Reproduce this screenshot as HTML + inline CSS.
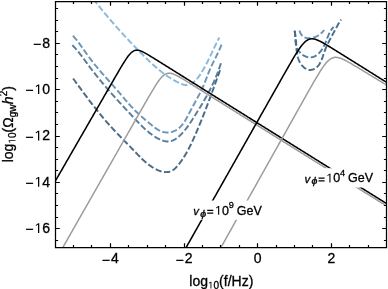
<!DOCTYPE html>
<html><head><meta charset="utf-8"><style>
html,body{margin:0;padding:0;background:#fff;}
svg{display:block;}
svg,text,tspan{font-family:"Liberation Sans",sans-serif;}
text{stroke:#000;stroke-width:0.3px;paint-order:stroke;}
.h1{fill:none;stroke:none;}
</style></head><body>
<svg style="will-change:transform" width="388" height="289" viewBox="0 0 388 289" xmlns="http://www.w3.org/2000/svg">
<defs><clipPath id="pc"><rect x="55.5" y="1.5" width="331.0" height="246.0"/></clipPath></defs>
<rect width="388" height="289" fill="#fff"/>
<g clip-path="url(#pc)">
<path d="M93.25,-1.02 L93.55,-0.65 L93.84,-0.27 L94.14,0.11 L94.44,0.49 L94.73,0.86 L95.03,1.24 L95.32,1.62 L95.62,1.99 L95.92,2.37 L96.21,2.74 L96.51,3.12 L96.81,3.49 L97.11,3.86 L97.40,4.24 L97.70,4.61 L98.00,4.98 L98.30,5.35 L98.60,5.72 L98.89,6.09 L99.19,6.47 L99.49,6.84 L99.79,7.21 L100.09,7.57 L100.39,7.94 L100.69,8.31 L100.99,8.68 L101.29,9.05 L101.59,9.42 L101.89,9.78 L102.19,10.15 L102.49,10.52 L102.79,10.88 L103.09,11.25 L103.39,11.61 L103.70,11.98 L104.00,12.34 L104.30,12.71 L104.60,13.07 L104.90,13.43 L105.21,13.80 L105.51,14.16 L105.81,14.52 L106.12,14.89 L106.42,15.25 L106.72,15.61 L107.03,15.97 L107.33,16.33 L107.64,16.69 L107.94,17.05 L108.24,17.41 L108.55,17.77 L108.86,18.13 L109.16,18.49 L109.47,18.85 L109.77,19.20 L110.08,19.56 L110.38,19.92 L110.69,20.28 L111.00,20.63 L111.31,20.99 L111.61,21.35 L111.92,21.70 L112.23,22.06 L112.54,22.41 L112.84,22.77 L113.15,23.12 L113.46,23.48 L113.77,23.83 L114.08,24.19 L114.39,24.54 L114.70,24.89 L115.01,25.25 L115.32,25.60 L115.63,25.95 L115.94,26.30 L116.25,26.66 L116.56,27.01 L116.88,27.36 L117.19,27.71 L117.50,28.06 L117.81,28.41 L118.12,28.76 L118.44,29.11 L118.75,29.46 L119.06,29.81 L119.38,30.16 L119.69,30.51 L120.01,30.86 L120.32,31.21 L120.63,31.56 L120.95,31.91 L121.26,32.25 L121.58,32.60 L121.90,32.95 L122.21,33.30 L122.53,33.64 L122.84,33.99 L123.16,34.34 L123.48,34.68 L123.80,35.03 L124.11,35.38 L124.43,35.72 L124.75,36.07 L125.07,36.41 L125.39,36.76 L125.71,37.10 L126.03,37.45 L126.35,37.79 L126.67,38.14 L126.99,38.48 L127.31,38.82 L127.63,39.17 L127.95,39.51 L128.27,39.86 L128.59,40.20 L128.92,40.54 L129.24,40.88 L129.56,41.23 L129.88,41.57 L130.21,41.91 L130.53,42.25 L130.85,42.60 L131.18,42.94 L131.50,43.28 L131.83,43.62 L132.15,43.96 L132.48,44.30 L132.80,44.64 L133.13,44.99 L133.46,45.33 L133.78,45.67 L134.11,46.01 L134.44,46.35 L134.77,46.69 L135.09,47.03 L135.42,47.37 L135.75,47.71 L136.08,48.05 L136.41,48.39 L136.74,48.73 L137.07,49.07 L137.40,49.40 L137.73,49.74 L138.06,50.08 L138.39,50.42 L138.72,50.76 L139.06,51.10 L139.39,51.44 L139.72,51.78 L140.05,52.11 L140.39,52.45 L140.72,52.79 L141.06,53.13 L141.39,53.47 L141.72,53.80 L142.06,54.14 L142.40,54.48 L142.73,54.81 L143.07,55.15 L143.40,55.49 L143.74,55.82 L144.08,56.16 L144.42,56.49 L144.76,56.83 L145.10,57.16 L145.44,57.50 L145.78,57.83 L146.12,58.16 L146.46,58.50 L146.80,58.83 L147.14,59.16 L147.48,59.49 L147.83,59.82 L148.17,60.15 L148.52,60.48 L148.86,60.81 L149.21,61.14 L149.55,61.47 L149.90,61.79 L150.25,62.12 L150.60,62.44 L150.94,62.77 L151.29,63.09 L151.64,63.41 L152.00,63.73 L152.35,64.06 L152.70,64.38 L153.05,64.69 L153.41,65.01 L153.76,65.33 L154.12,65.65 L154.47,65.96 L154.83,66.28 L155.19,66.59 L155.54,66.90 L155.90,67.21 L156.26,67.52 L156.62,67.83 L156.99,68.14 L157.35,68.45 L157.71,68.75 L158.08,69.05 L158.44,69.36 L158.81,69.66 L159.17,69.96 L159.54,70.26 L159.91,70.56 L160.28,70.85 L160.65,71.15 L161.02,71.44 L161.39,71.73 L161.77,72.02 L162.14,72.31 L162.52,72.60 L162.89,72.89 L163.27,73.17 L163.65,73.45 L164.03,73.74 L164.41,74.02 L164.79,74.29 L165.17,74.57 L165.55,74.85 L165.94,75.12 L166.32,75.39 L166.71,75.66 L167.10,75.93 L167.49,76.20 L167.88,76.46 L168.27,76.72 L168.66,76.98 L169.05,77.24 L169.45,77.50 L169.85,77.76 L170.24,78.01 L170.64,78.26 L171.04,78.51 L171.44,78.76 L171.84,79.00 L172.25,79.25 L172.65,79.49 L173.06,79.73 L173.46,79.96 L173.87,80.20 L174.28,80.43 L174.69,80.66 L175.10,80.89 L175.52,81.12 L175.93,81.34 L176.35,81.56 L176.76,81.78 L177.18,82.00 L177.60,82.21 L178.03,82.43 L178.45,82.64 L178.87,82.84 L179.30,83.05 L179.72,83.24 L180.15,83.44 L180.58,83.62 L181.01,83.80 L181.44,83.97 L181.87,84.13 L182.30,84.28 L182.73,84.42 L183.16,84.54 L183.60,84.65 L184.03,84.75 L184.46,84.84 L184.89,84.91 L185.32,84.96 L185.75,84.99 L186.19,85.01 L186.62,85.00 L187.05,84.98 L187.48,84.94 L187.90,84.87 L188.33,84.79 L188.75,84.69 L189.17,84.57 L189.59,84.44 L190.01,84.29 L190.42,84.12 L190.83,83.93 L191.24,83.74 L191.64,83.52 L192.03,83.30 L192.42,83.05 L192.81,82.80 L193.19,82.53 L193.56,82.25 L193.93,81.96 L194.29,81.66 L194.64,81.35 L194.99,81.03 L195.34,80.70 L195.68,80.36 L196.01,80.01 L196.34,79.65 L196.66,79.28 L196.98,78.91 L197.30,78.53 L197.61,78.15 L197.92,77.76 L198.22,77.36 L198.52,76.96 L198.81,76.56 L199.10,76.15 L199.39,75.74 L199.67,75.33 L199.95,74.91 L200.22,74.49 L200.49,74.07 L200.76,73.65 L201.03,73.24 L201.29,72.82 L201.56,72.40 L201.81,71.98 L202.07,71.56 L202.32,71.14 L202.57,70.73 L202.82,70.31 L203.07,69.89 L203.31,69.48 L203.55,69.06 L203.79,68.65 L204.03,68.23 L204.26,67.82 L204.49,67.40 L204.72,66.99 L204.95,66.57 L205.18,66.16 L205.40,65.75 L205.63,65.33 L205.85,64.92 L206.07,64.50 L206.28,64.09 L206.50,63.68 L206.72,63.26 L206.93,62.85 L207.14,62.44 L207.35,62.03 L207.56,61.61 L207.77,61.20 L207.98,60.79 L208.19,60.37 L208.39,59.96 L208.60,59.55 L208.80,59.13 L209.00,58.72 L209.20,58.31 L209.40,57.89 L209.61,57.48 L209.81,57.06 L210.00,56.65 L210.20,56.23 L210.40,55.82 L210.60,55.40 L210.80,54.99 L211.00,54.57 L211.19,54.16 L211.39,53.74 L211.59,53.32 L211.79,52.91 L211.98,52.49 L212.18,52.07 L212.38,51.65 L212.58,51.23 L212.77,50.81 L212.97,50.39 L213.17,49.97 L213.37,49.55 L213.57,49.13 L213.77,48.71 L213.97,48.29 L214.17,47.86 L214.38,47.44 L214.58,47.01 L214.78,46.59 L214.99,46.16 L215.19,45.74 L215.40,45.31 L215.61,44.88 L215.82,44.45 L216.03,44.03 L216.24,43.60 L216.45,43.16 L216.67,42.73 L216.88,42.30 L217.10,41.87 L217.32,41.43 L217.54,41.00 L217.76,40.56 L217.99,40.12 L218.21,39.69 L218.44,39.25 L218.67,38.81 L218.90,38.37 L219.13,37.93 L219.37,37.48" stroke="#8bb9db" fill="none" stroke-width="1.95" stroke-dasharray="6.3 2.5"/>
<path d="M72.98,35.71 L73.38,36.17 L73.78,36.64 L74.18,37.11 L74.58,37.58 L74.97,38.06 L75.36,38.53 L75.75,39.01 L76.13,39.49 L76.52,39.98 L76.90,40.46 L77.28,40.95 L77.66,41.44 L78.03,41.93 L78.41,42.42 L78.78,42.91 L79.15,43.41 L79.52,43.90 L79.89,44.40 L80.25,44.90 L80.62,45.40 L80.99,45.90 L81.35,46.40 L81.71,46.90 L82.07,47.40 L82.44,47.90 L82.80,48.41 L83.16,48.91 L83.52,49.41 L83.88,49.92 L84.24,50.42 L84.59,50.93 L84.95,51.43 L85.31,51.94 L85.67,52.44 L86.03,52.95 L86.39,53.45 L86.75,53.96 L87.11,54.46 L87.48,54.96 L87.84,55.46 L88.20,55.97 L88.56,56.47 L88.93,56.97 L89.30,57.46 L89.66,57.96 L90.03,58.46 L90.40,58.95 L90.77,59.45 L91.14,59.94 L91.52,60.43 L91.89,60.92 L92.27,61.41 L92.65,61.90 L93.03,62.38 L93.41,62.87 L93.80,63.35 L94.18,63.83 L94.57,64.31 L94.96,64.79 L95.34,65.27 L95.73,65.75 L96.13,66.23 L96.52,66.70 L96.91,67.17 L97.31,67.65 L97.70,68.12 L98.10,68.59 L98.50,69.06 L98.90,69.53 L99.30,70.00 L99.70,70.47 L100.10,70.94 L100.50,71.40 L100.90,71.87 L101.31,72.34 L101.71,72.80 L102.12,73.26 L102.52,73.73 L102.93,74.19 L103.34,74.65 L103.75,75.12 L104.16,75.58 L104.56,76.04 L104.97,76.50 L105.38,76.96 L105.79,77.42 L106.21,77.89 L106.62,78.35 L107.03,78.81 L107.44,79.27 L107.85,79.73 L108.26,80.19 L108.68,80.65 L109.09,81.11 L109.50,81.57 L109.91,82.03 L110.33,82.49 L110.74,82.95 L111.15,83.41 L111.56,83.87 L111.98,84.33 L112.39,84.79 L112.80,85.26 L113.21,85.72 L113.62,86.18 L114.04,86.64 L114.45,87.11 L114.86,87.57 L115.27,88.04 L115.68,88.50 L116.09,88.97 L116.50,89.43 L116.90,89.90 L117.31,90.37 L117.72,90.84 L118.13,91.31 L118.53,91.78 L118.94,92.25 L119.34,92.72 L119.75,93.19 L120.15,93.66 L120.55,94.14 L120.96,94.61 L121.36,95.09 L121.76,95.56 L122.16,96.04 L122.56,96.51 L122.96,96.99 L123.37,97.46 L123.77,97.93 L124.17,98.41 L124.57,98.88 L124.97,99.36 L125.38,99.83 L125.78,100.30 L126.18,100.77 L126.59,101.24 L126.99,101.71 L127.40,102.18 L127.80,102.65 L128.21,103.11 L128.62,103.58 L129.03,104.04 L129.44,104.50 L129.85,104.96 L130.26,105.42 L130.67,105.88 L131.09,106.33 L131.50,106.79 L131.92,107.24 L132.34,107.69 L132.76,108.13 L133.18,108.58 L133.60,109.02 L134.03,109.46 L134.46,109.89 L134.89,110.33 L135.32,110.76 L135.75,111.19 L136.18,111.61 L136.62,112.03 L137.06,112.46 L137.50,112.88 L137.94,113.29 L138.39,113.71 L138.83,114.12 L139.28,114.53 L139.73,114.94 L140.18,115.35 L140.63,115.76 L141.09,116.17 L141.54,116.57 L142.00,116.98 L142.46,117.38 L142.92,117.78 L143.39,118.18 L143.85,118.58 L144.32,118.99 L144.79,119.39 L145.26,119.79 L145.73,120.19 L146.21,120.59 L146.68,120.99 L147.16,121.39 L147.64,121.79 L148.12,122.19 L148.60,122.59 L149.08,122.99 L149.57,123.40 L150.05,123.80 L150.54,124.21 L151.03,124.61 L151.52,125.02 L152.02,125.42 L152.51,125.82 L153.01,126.22 L153.51,126.61 L154.02,127.00 L154.53,127.38 L155.04,127.75 L155.55,128.12 L156.07,128.48 L156.59,128.83 L157.11,129.16 L157.64,129.49 L158.17,129.81 L158.71,130.11 L159.25,130.40 L159.80,130.67 L160.35,130.93 L160.91,131.17 L161.47,131.39 L162.04,131.60 L162.61,131.78 L163.19,131.95 L163.77,132.10 L164.36,132.22 L164.96,132.32 L165.56,132.40 L166.17,132.45 L166.78,132.48 L167.40,132.49 L168.02,132.48 L168.64,132.44 L169.26,132.38 L169.87,132.30 L170.49,132.20 L171.09,132.08 L171.70,131.94 L172.30,131.78 L172.89,131.60 L173.47,131.40 L174.04,131.18 L174.61,130.95 L175.16,130.69 L175.69,130.42 L176.22,130.12 L176.73,129.82 L177.23,129.49 L177.72,129.15 L178.20,128.79 L178.66,128.42 L179.12,128.04 L179.56,127.64 L180.00,127.23 L180.43,126.81 L180.84,126.37 L181.25,125.92 L181.65,125.46 L182.04,124.99 L182.42,124.52 L182.80,124.03 L183.17,123.53 L183.53,123.03 L183.89,122.51 L184.23,121.99 L184.58,121.47 L184.91,120.94 L185.25,120.40 L185.57,119.86 L185.90,119.31 L186.21,118.76 L186.53,118.21 L186.84,117.65 L187.15,117.09 L187.45,116.53 L187.75,115.97 L188.05,115.41 L188.35,114.84 L188.65,114.28 L188.94,113.72 L189.23,113.16 L189.53,112.61 L189.82,112.05 L190.11,111.50 L190.41,110.95 L190.70,110.40 L190.99,109.85 L191.28,109.31 L191.57,108.77 L191.86,108.22 L192.15,107.68 L192.44,107.15 L192.72,106.61 L193.01,106.07 L193.30,105.54 L193.59,105.01 L193.87,104.48 L194.16,103.94 L194.45,103.41 L194.73,102.88 L195.02,102.36 L195.30,101.83 L195.59,101.30 L195.87,100.77 L196.16,100.25 L196.44,99.72 L196.72,99.19 L197.01,98.67 L197.29,98.14 L197.57,97.62 L197.86,97.09 L198.14,96.56 L198.42,96.04 L198.70,95.51 L198.99,94.98 L199.27,94.45 L199.55,93.93 L199.82,93.39 L200.10,92.86 L200.37,92.33 L200.64,91.80 L200.91,91.26 L201.17,90.72 L201.43,90.18 L201.69,89.64 L201.94,89.10 L202.19,88.55 L202.44,88.00 L202.69,87.46 L202.93,86.91 L203.17,86.36 L203.41,85.81 L203.64,85.26 L203.87,84.71 L204.10,84.15 L204.33,83.60 L204.56,83.05 L204.78,82.50 L205.00,81.94 L205.22,81.39 L205.44,80.84 L205.66,80.29 L205.87,79.73 L206.09,79.18 L206.30,78.63 L206.51,78.08 L206.72,77.53 L206.93,76.99 L207.14,76.44 L207.35,75.89 L207.56,75.35 L207.77,74.81 L207.98,74.27 L208.19,73.73 L208.40,73.19 L208.61,72.66 L208.82,72.12 L209.04,71.59 L209.25,71.06 L209.47,70.53 L209.70,70.00 L209.92,69.48 L210.15,68.95 L210.38,68.43 L210.61,67.90 L210.84,67.38 L211.08,66.86 L211.32,66.34 L211.57,65.82 L211.81,65.30 L212.06,64.77 L212.31,64.25 L212.57,63.73 L212.82,63.20 L213.08,62.68 L213.35,62.15 L213.61,61.62 L213.88,61.09 L214.14,60.56 L214.41,60.03 L214.68,59.49 L214.96,58.95 L215.23,58.41 L215.50,57.87 L215.78,57.32 L216.05,56.78 L216.32,56.23 L216.60,55.67 L216.87,55.12 L217.14,54.56 L217.41,54.01 L217.68,53.45 L217.95,52.89 L218.22,52.32 L218.48,51.76 L218.74,51.19 L219.00,50.62 L219.26,50.05 L219.51,49.48 L219.76,48.91 L220.01,48.34 L220.25,47.76 L220.48,47.18 L220.72,46.61 L220.95,46.03 L221.17,45.45 L221.39,44.87 L221.60,44.29" stroke="#6c96b8" fill="none" stroke-width="1.95" stroke-dasharray="6.3 2.5"/>
<path d="M72.32,45.14 L72.75,45.56 L73.16,45.99 L73.58,46.41 L73.99,46.84 L74.39,47.27 L74.80,47.71 L75.19,48.15 L75.59,48.59 L75.98,49.03 L76.37,49.48 L76.76,49.93 L77.14,50.38 L77.52,50.84 L77.90,51.29 L78.27,51.75 L78.65,52.21 L79.02,52.67 L79.39,53.14 L79.75,53.60 L80.12,54.07 L80.48,54.54 L80.84,55.01 L81.20,55.48 L81.56,55.95 L81.91,56.42 L82.27,56.90 L82.62,57.37 L82.98,57.85 L83.33,58.33 L83.68,58.80 L84.03,59.28 L84.38,59.76 L84.73,60.24 L85.08,60.71 L85.43,61.19 L85.78,61.67 L86.13,62.15 L86.48,62.62 L86.83,63.10 L87.19,63.58 L87.54,64.05 L87.89,64.53 L88.24,65.00 L88.60,65.48 L88.95,65.95 L89.31,66.42 L89.66,66.90 L90.02,67.37 L90.37,67.84 L90.73,68.31 L91.09,68.78 L91.45,69.25 L91.81,69.71 L92.17,70.18 L92.53,70.65 L92.89,71.11 L93.25,71.58 L93.62,72.05 L93.98,72.51 L94.34,72.97 L94.71,73.44 L95.07,73.90 L95.44,74.36 L95.81,74.83 L96.18,75.29 L96.54,75.75 L96.91,76.21 L97.28,76.67 L97.65,77.13 L98.02,77.59 L98.39,78.04 L98.77,78.50 L99.14,78.96 L99.51,79.42 L99.88,79.87 L100.26,80.33 L100.63,80.78 L101.01,81.24 L101.39,81.69 L101.76,82.15 L102.14,82.60 L102.52,83.05 L102.90,83.50 L103.28,83.96 L103.66,84.41 L104.04,84.86 L104.42,85.31 L104.80,85.76 L105.19,86.21 L105.57,86.66 L105.95,87.11 L106.34,87.56 L106.72,88.01 L107.11,88.45 L107.50,88.90 L107.88,89.35 L108.27,89.80 L108.66,90.24 L109.05,90.69 L109.44,91.13 L109.83,91.58 L110.22,92.03 L110.61,92.47 L111.00,92.91 L111.40,93.36 L111.79,93.80 L112.18,94.25 L112.58,94.69 L112.97,95.13 L113.37,95.57 L113.76,96.02 L114.16,96.46 L114.55,96.90 L114.95,97.34 L115.35,97.78 L115.75,98.22 L116.14,98.66 L116.54,99.10 L116.94,99.54 L117.34,99.98 L117.74,100.42 L118.14,100.86 L118.54,101.29 L118.94,101.73 L119.34,102.17 L119.74,102.61 L120.14,103.04 L120.55,103.48 L120.95,103.92 L121.35,104.35 L121.75,104.79 L122.15,105.22 L122.56,105.66 L122.96,106.09 L123.36,106.53 L123.77,106.96 L124.17,107.40 L124.57,107.83 L124.98,108.26 L125.38,108.70 L125.79,109.13 L126.19,109.56 L126.59,110.00 L127.00,110.43 L127.40,110.86 L127.81,111.29 L128.21,111.72 L128.61,112.16 L129.02,112.59 L129.42,113.02 L129.83,113.45 L130.23,113.88 L130.64,114.31 L131.04,114.74 L131.44,115.17 L131.85,115.60 L132.25,116.03 L132.66,116.46 L133.06,116.88 L133.46,117.31 L133.87,117.74 L134.27,118.17 L134.67,118.60 L135.07,119.03 L135.48,119.45 L135.88,119.88 L136.28,120.31 L136.69,120.73 L137.09,121.16 L137.49,121.58 L137.90,122.01 L138.31,122.43 L138.71,122.85 L139.12,123.27 L139.53,123.69 L139.94,124.11 L140.35,124.53 L140.76,124.95 L141.18,125.36 L141.59,125.77 L142.01,126.19 L142.43,126.60 L142.85,127.01 L143.28,127.41 L143.70,127.82 L144.13,128.22 L144.56,128.62 L145.00,129.02 L145.44,129.42 L145.87,129.81 L146.32,130.20 L146.76,130.59 L147.21,130.98 L147.67,131.36 L148.12,131.74 L148.58,132.12 L149.04,132.50 L149.51,132.87 L149.98,133.24 L150.46,133.61 L150.94,133.97 L151.42,134.34 L151.91,134.69 L152.40,135.05 L152.90,135.40 L153.40,135.74 L153.91,136.09 L154.42,136.43 L154.94,136.76 L155.46,137.09 L155.98,137.41 L156.51,137.73 L157.05,138.04 L157.58,138.34 L158.12,138.63 L158.66,138.91 L159.20,139.18 L159.75,139.44 L160.30,139.69 L160.85,139.92 L161.40,140.14 L161.95,140.35 L162.50,140.54 L163.06,140.72 L163.61,140.88 L164.17,141.03 L164.72,141.15 L165.28,141.26 L165.83,141.35 L166.38,141.42 L166.93,141.46 L167.48,141.49 L168.03,141.50 L168.58,141.48 L169.12,141.44 L169.66,141.37 L170.20,141.28 L170.74,141.16 L171.27,141.02 L171.80,140.86 L172.33,140.67 L172.85,140.46 L173.37,140.22 L173.88,139.97 L174.39,139.70 L174.90,139.41 L175.40,139.10 L175.90,138.78 L176.39,138.44 L176.88,138.09 L177.36,137.73 L177.84,137.35 L178.31,136.96 L178.77,136.57 L179.23,136.16 L179.69,135.75 L180.14,135.32 L180.58,134.90 L181.02,134.47 L181.44,134.03 L181.87,133.59 L182.29,133.15 L182.70,132.70 L183.10,132.25 L183.50,131.80 L183.90,131.34 L184.29,130.89 L184.67,130.42 L185.05,129.96 L185.43,129.49 L185.80,129.02 L186.16,128.55 L186.52,128.08 L186.88,127.60 L187.24,127.12 L187.59,126.64 L187.94,126.16 L188.28,125.67 L188.62,125.18 L188.96,124.70 L189.30,124.21 L189.63,123.71 L189.96,123.22 L190.29,122.73 L190.62,122.23 L190.95,121.74 L191.27,121.24 L191.59,120.74 L191.92,120.25 L192.24,119.75 L192.56,119.25 L192.88,118.75 L193.20,118.25 L193.52,117.75 L193.84,117.25 L194.15,116.75 L194.47,116.25 L194.79,115.75 L195.11,115.25 L195.43,114.75 L195.74,114.25 L196.06,113.75 L196.37,113.25 L196.69,112.74 L197.00,112.24 L197.32,111.74 L197.63,111.24 L197.95,110.73 L198.26,110.23 L198.57,109.73 L198.88,109.22 L199.19,108.72 L199.50,108.21 L199.81,107.71 L200.12,107.20 L200.43,106.70 L200.73,106.19 L201.04,105.68 L201.34,105.18 L201.65,104.67 L201.95,104.16 L202.26,103.65 L202.56,103.14 L202.86,102.63 L203.16,102.12 L203.46,101.61 L203.75,101.10 L204.05,100.59 L204.35,100.08 L204.64,99.56 L204.94,99.05 L205.23,98.54 L205.52,98.02 L205.81,97.51 L206.10,96.99 L206.39,96.47 L206.67,95.96 L206.96,95.44 L207.24,94.92 L207.53,94.40 L207.81,93.88 L208.09,93.36 L208.37,92.84 L208.65,92.32 L208.92,91.80 L209.20,91.27 L209.47,90.75 L209.74,90.23 L210.01,89.70 L210.28,89.17 L210.55,88.65 L210.82,88.12 L211.08,87.59 L211.35,87.06 L211.61,86.53 L211.87,86.00 L212.12,85.47 L212.38,84.93 L212.64,84.40 L212.89,83.87 L213.14,83.33 L213.39,82.79 L213.64,82.26 L213.88,81.72 L214.13,81.18 L214.37,80.64 L214.61,80.10 L214.85,79.56 L215.09,79.01 L215.32,78.47 L215.56,77.93 L215.79,77.38 L216.02,76.83 L216.24,76.28 L216.47,75.74 L216.69,75.19 L216.91,74.63 L217.13,74.08 L217.35,73.53 L217.56,72.97 L217.77,72.42 L217.98,71.86 L218.19,71.30 L218.40,70.75 L218.60,70.19 L218.80,69.62 L219.00,69.06 L219.20,68.50 L219.39,67.93 L219.58,67.37 L219.77,66.80 L219.96,66.23 L220.15,65.66 L220.33,65.09 L220.51,64.52 L220.69,63.95 L220.86,63.37 L221.03,62.79 L221.20,62.22" stroke="#587d9b" fill="none" stroke-width="1.95" stroke-dasharray="6.3 2.5"/>
<path d="M73.10,78.50 L73.47,79.01 L73.84,79.51 L74.21,80.02 L74.58,80.52 L74.96,81.03 L75.33,81.54 L75.70,82.04 L76.08,82.55 L76.45,83.06 L76.82,83.57 L77.20,84.08 L77.57,84.59 L77.95,85.10 L78.32,85.61 L78.70,86.13 L79.07,86.64 L79.45,87.15 L79.83,87.66 L80.21,88.18 L80.58,88.69 L80.96,89.20 L81.34,89.72 L81.72,90.23 L82.10,90.74 L82.48,91.26 L82.86,91.77 L83.24,92.29 L83.62,92.80 L84.01,93.32 L84.39,93.83 L84.77,94.35 L85.15,94.86 L85.54,95.38 L85.92,95.89 L86.31,96.41 L86.69,96.92 L87.08,97.44 L87.47,97.95 L87.85,98.47 L88.24,98.98 L88.63,99.49 L89.02,100.01 L89.41,100.52 L89.80,101.04 L90.19,101.55 L90.58,102.06 L90.97,102.57 L91.36,103.09 L91.75,103.60 L92.15,104.11 L92.54,104.62 L92.93,105.13 L93.33,105.64 L93.72,106.15 L94.12,106.66 L94.52,107.17 L94.91,107.67 L95.31,108.18 L95.71,108.69 L96.11,109.19 L96.51,109.70 L96.91,110.20 L97.31,110.71 L97.72,111.21 L98.12,111.71 L98.52,112.21 L98.93,112.71 L99.33,113.21 L99.74,113.71 L100.14,114.21 L100.55,114.71 L100.96,115.20 L101.36,115.70 L101.77,116.19 L102.18,116.69 L102.59,117.18 L103.00,117.67 L103.42,118.16 L103.83,118.65 L104.24,119.14 L104.66,119.62 L105.07,120.11 L105.49,120.59 L105.90,121.08 L106.32,121.56 L106.74,122.04 L107.16,122.52 L107.58,123.00 L108.00,123.48 L108.42,123.95 L108.84,124.42 L109.27,124.90 L109.69,125.37 L110.11,125.84 L110.54,126.31 L110.97,126.78 L111.39,127.24 L111.82,127.71 L112.25,128.17 L112.68,128.64 L113.11,129.10 L113.54,129.56 L113.97,130.02 L114.40,130.48 L114.83,130.94 L115.27,131.40 L115.70,131.85 L116.14,132.31 L116.57,132.77 L117.01,133.22 L117.44,133.68 L117.88,134.13 L118.32,134.59 L118.76,135.04 L119.20,135.49 L119.64,135.95 L120.08,136.40 L120.52,136.85 L120.96,137.30 L121.40,137.76 L121.84,138.21 L122.28,138.66 L122.72,139.12 L123.17,139.57 L123.61,140.02 L124.06,140.48 L124.50,140.93 L124.94,141.38 L125.39,141.84 L125.83,142.29 L126.28,142.75 L126.73,143.21 L127.17,143.66 L127.62,144.12 L128.07,144.58 L128.51,145.04 L128.96,145.50 L129.41,145.96 L129.86,146.42 L130.31,146.88 L130.76,147.34 L131.20,147.81 L131.65,148.27 L132.10,148.74 L132.55,149.20 L133.00,149.67 L133.45,150.14 L133.90,150.61 L134.35,151.09 L134.80,151.56 L135.25,152.03 L135.71,152.50 L136.16,152.98 L136.61,153.45 L137.07,153.92 L137.52,154.40 L137.98,154.87 L138.44,155.34 L138.90,155.80 L139.36,156.27 L139.82,156.74 L140.28,157.20 L140.75,157.66 L141.22,158.12 L141.69,158.57 L142.16,159.03 L142.63,159.48 L143.11,159.92 L143.59,160.36 L144.07,160.80 L144.55,161.24 L145.04,161.67 L145.53,162.09 L146.02,162.51 L146.52,162.93 L147.02,163.34 L147.52,163.75 L148.02,164.15 L148.53,164.54 L149.04,164.93 L149.56,165.31 L150.08,165.68 L150.60,166.05 L151.13,166.41 L151.66,166.77 L152.20,167.11 L152.74,167.45 L153.28,167.78 L153.83,168.10 L154.39,168.42 L154.95,168.72 L155.51,169.02 L156.08,169.31 L156.65,169.59 L157.23,169.86 L157.81,170.11 L158.40,170.36 L158.98,170.59 L159.57,170.81 L160.17,171.02 L160.76,171.21 L161.36,171.39 L161.95,171.54 L162.55,171.68 L163.14,171.81 L163.73,171.91 L164.33,171.99 L164.91,172.05 L165.50,172.10 L166.08,172.11 L166.66,172.11 L167.24,172.08 L167.81,172.02 L168.37,171.94 L168.93,171.84 L169.48,171.70 L170.02,171.54 L170.56,171.35 L171.09,171.12 L171.61,170.87 L172.12,170.59 L172.63,170.29 L173.13,169.96 L173.62,169.61 L174.10,169.24 L174.58,168.84 L175.05,168.43 L175.51,168.00 L175.97,167.55 L176.42,167.09 L176.86,166.62 L177.30,166.13 L177.73,165.63 L178.15,165.13 L178.57,164.61 L178.99,164.09 L179.40,163.56 L179.80,163.03 L180.20,162.50 L180.59,161.97 L180.98,161.43 L181.37,160.89 L181.74,160.35 L182.12,159.81 L182.49,159.27 L182.86,158.72 L183.22,158.17 L183.57,157.62 L183.93,157.07 L184.28,156.52 L184.62,155.97 L184.96,155.41 L185.30,154.85 L185.63,154.30 L185.96,153.74 L186.29,153.18 L186.61,152.61 L186.93,152.05 L187.25,151.48 L187.56,150.92 L187.87,150.35 L188.18,149.78 L188.48,149.21 L188.78,148.64 L189.08,148.07 L189.37,147.49 L189.66,146.92 L189.95,146.35 L190.24,145.77 L190.53,145.19 L190.81,144.61 L191.09,144.04 L191.37,143.46 L191.64,142.88 L191.92,142.30 L192.19,141.71 L192.46,141.13 L192.73,140.55 L192.99,139.97 L193.26,139.38 L193.52,138.80 L193.78,138.21 L194.04,137.63 L194.30,137.04 L194.56,136.46 L194.82,135.87 L195.08,135.29 L195.33,134.70 L195.59,134.11 L195.84,133.52 L196.09,132.94 L196.35,132.35 L196.60,131.76 L196.85,131.18 L197.10,130.59 L197.35,130.00 L197.60,129.41 L197.84,128.82 L198.09,128.23 L198.34,127.65 L198.58,127.06 L198.83,126.47 L199.07,125.88 L199.32,125.29 L199.56,124.70 L199.80,124.11 L200.05,123.52 L200.29,122.93 L200.53,122.34 L200.77,121.75 L201.01,121.16 L201.25,120.57 L201.49,119.98 L201.72,119.39 L201.96,118.80 L202.20,118.20 L202.43,117.61 L202.67,117.02 L202.90,116.43 L203.14,115.84 L203.37,115.24 L203.61,114.65 L203.84,114.06 L204.07,113.47 L204.30,112.87 L204.54,112.28 L204.77,111.69 L205.00,111.09 L205.23,110.50 L205.46,109.91 L205.69,109.31 L205.91,108.72 L206.14,108.12 L206.37,107.53 L206.60,106.93 L206.83,106.34 L207.05,105.74 L207.28,105.15 L207.50,104.55 L207.73,103.96 L207.95,103.36 L208.18,102.77 L208.40,102.17 L208.63,101.57 L208.85,100.98 L209.07,100.38 L209.30,99.78 L209.52,99.19 L209.74,98.59 L209.97,97.99 L210.19,97.39 L210.41,96.80 L210.63,96.20 L210.85,95.60 L211.07,95.00 L211.29,94.40 L211.51,93.80 L211.73,93.20 L211.95,92.61 L212.17,92.01 L212.39,91.41 L212.61,90.81 L212.83,90.21 L213.05,89.61 L213.27,89.01 L213.48,88.41 L213.70,87.80 L213.92,87.20 L214.14,86.60 L214.35,86.00 L214.57,85.40 L214.79,84.80 L215.01,84.20 L215.22,83.59 L215.44,82.99 L215.66,82.39 L215.87,81.79 L216.09,81.18 L216.31,80.58 L216.52,79.98 L216.74,79.38 L216.96,78.77 L217.17,78.17 L217.39,77.56 L217.61,76.96 L217.82,76.36 L218.04,75.75 L218.25,75.15 L218.47,74.54 L218.69,73.94 L218.90,73.33 L219.12,72.73 L219.34,72.12 L219.55,71.51 L219.77,70.91 L219.99,70.30 L220.20,69.70 L220.42,69.09 L220.63,68.48" stroke="#4a6b87" fill="none" stroke-width="1.95" stroke-dasharray="6.3 2.5"/>
<path d="M299.47,30.49 L299.50,30.59 L299.53,30.68 L299.55,30.78 L299.58,30.88 L299.61,30.97 L299.64,31.07 L299.66,31.16 L299.69,31.26 L299.72,31.35 L299.75,31.44 L299.78,31.53 L299.81,31.62 L299.84,31.71 L299.88,31.80 L299.91,31.89 L299.94,31.98 L299.97,32.07 L300.01,32.15 L300.04,32.24 L300.08,32.33 L300.11,32.41 L300.15,32.49 L300.18,32.58 L300.22,32.66 L300.25,32.74 L300.29,32.82 L300.33,32.90 L300.37,32.98 L300.40,33.06 L300.44,33.14 L300.48,33.22 L300.52,33.30 L300.56,33.37 L300.60,33.45 L300.64,33.52 L300.68,33.60 L300.72,33.67 L300.76,33.75 L300.81,33.82 L300.85,33.89 L300.89,33.96 L300.94,34.03 L300.98,34.10 L301.02,34.17 L301.07,34.24 L301.11,34.31 L301.16,34.38 L301.20,34.44 L301.25,34.51 L301.30,34.58 L301.34,34.64 L301.39,34.70 L301.44,34.77 L301.48,34.83 L301.53,34.89 L301.58,34.96 L301.63,35.02 L301.68,35.08 L301.73,35.14 L301.78,35.20 L301.83,35.26 L301.88,35.31 L301.93,35.37 L301.98,35.43 L302.03,35.48 L302.08,35.54 L302.14,35.60 L302.19,35.65 L302.24,35.70 L302.29,35.76 L302.35,35.81 L302.40,35.86 L302.46,35.91 L302.51,35.96 L302.57,36.01 L302.62,36.06 L302.68,36.11 L302.73,36.16 L302.79,36.21 L302.84,36.26 L302.90,36.30 L302.96,36.35 L303.01,36.40 L303.07,36.44 L303.13,36.49 L303.19,36.53 L303.25,36.57 L303.31,36.61 L303.36,36.66 L303.42,36.70 L303.48,36.74 L303.54,36.78 L303.60,36.82 L303.66,36.86 L303.72,36.90 L303.78,36.94 L303.85,36.97 L303.91,37.01 L303.97,37.05 L304.03,37.08 L304.09,37.12 L304.15,37.15 L304.22,37.19 L304.28,37.22 L304.34,37.25 L304.41,37.29 L304.47,37.32 L304.53,37.35 L304.60,37.38 L304.66,37.41 L304.73,37.44 L304.79,37.47 L304.86,37.50 L304.92,37.53 L304.99,37.56 L305.05,37.58 L305.12,37.61 L305.19,37.64 L305.25,37.66 L305.32,37.69 L305.38,37.71 L305.45,37.74 L305.52,37.76 L305.59,37.78 L305.65,37.81 L305.72,37.83 L305.79,37.85 L305.86,37.87 L305.93,37.89 L305.99,37.91 L306.06,37.93 L306.13,37.95 L306.20,37.97 L306.27,37.99 L306.34,38.00 L306.41,38.02 L306.48,38.04 L306.55,38.05 L306.62,38.07 L306.69,38.08 L306.76,38.10 L306.83,38.11 L306.90,38.13 L306.97,38.14 L307.04,38.15 L307.12,38.16 L307.19,38.18 L307.26,38.19 L307.33,38.20 L307.40,38.21 L307.48,38.22 L307.55,38.23 L307.62,38.24 L307.69,38.24 L307.76,38.25 L307.84,38.26 L307.91,38.27 L307.98,38.27 L308.06,38.28 L308.13,38.28 L308.20,38.29 L308.28,38.29 L308.35,38.30 L308.42,38.30 L308.50,38.30 L308.57,38.31 L308.65,38.31 L308.72,38.31 L308.79,38.31 L308.87,38.31 L308.94,38.32 L309.02,38.32 L309.09,38.31 L309.17,38.31 L309.24,38.31 L309.32,38.31 L309.39,38.31 L309.47,38.31 L309.54,38.30 L309.62,38.30 L309.69,38.30 L309.77,38.29 L309.84,38.29 L309.92,38.28 L310.00,38.28 L310.07,38.27 L310.15,38.26 L310.22,38.26 L310.30,38.25 L310.38,38.24 L310.45,38.24 L310.53,38.23 L310.60,38.22 L310.68,38.21 L310.76,38.20 L310.83,38.19 L310.91,38.18 L310.98,38.17 L311.06,38.16 L311.14,38.15 L311.21,38.13 L311.29,38.12 L311.37,38.11 L311.44,38.09 L311.52,38.08 L311.60,38.07 L311.67,38.05 L311.75,38.04 L311.83,38.02 L311.90,38.01 L311.98,37.99 L312.06,37.98 L312.13,37.96 L312.21,37.94 L312.29,37.92 L312.36,37.91 L312.44,37.89 L312.52,37.87 L312.59,37.85 L312.67,37.83 L312.75,37.81 L312.82,37.79 L312.90,37.77 L312.98,37.75 L313.05,37.73 L313.13,37.71 L313.21,37.69 L313.28,37.66 L313.36,37.64 L313.44,37.62 L313.51,37.60 L313.59,37.57 L313.67,37.55 L313.74,37.52 L313.82,37.50 L313.90,37.47 L313.97,37.45 L314.05,37.42 L314.12,37.40 L314.20,37.37 L314.28,37.34 L314.35,37.32 L314.43,37.29 L314.50,37.26 L314.58,37.23 L314.66,37.21 L314.73,37.18 L314.81,37.15 L314.88,37.12 L314.96,37.09 L315.03,37.06 L315.11,37.03 L315.18,37.00 L315.26,36.97 L315.33,36.94 L315.41,36.91 L315.48,36.87 L315.56,36.84 L315.63,36.81 L315.71,36.78 L315.78,36.74 L315.86,36.71 L315.93,36.68 L316.01,36.64 L316.08,36.61 L316.15,36.58 L316.23,36.54 L316.30,36.51 L316.37,36.47 L316.45,36.43 L316.52,36.40 L316.59,36.36 L316.67,36.33 L316.74,36.29 L316.81,36.25 L316.89,36.21 L316.96,36.18 L317.03,36.14 L317.10,36.10 L317.18,36.06 L317.25,36.02 L317.32,35.99 L317.39,35.95 L317.46,35.91 L317.53,35.87 L317.61,35.83 L317.68,35.79 L317.75,35.75 L317.82,35.71 L317.89,35.66 L317.96,35.62 L318.03,35.58 L318.10,35.54 L318.17,35.50 L318.24,35.45 L318.31,35.41 L318.38,35.37 L318.45,35.33 L318.52,35.28 L318.59,35.24 L318.66,35.20 L318.72,35.15 L318.79,35.11 L318.86,35.06 L318.93,35.02 L319.00,34.97 L319.06,34.93 L319.13,34.88 L319.20,34.84 L319.27,34.79 L319.33,34.74 L319.40,34.70 L319.47,34.65 L319.53,34.61 L319.60,34.56 L319.66,34.51 L319.73,34.46 L319.79,34.42 L319.86,34.37 L319.92,34.32 L319.99,34.27 L320.05,34.22 L320.12,34.17 L320.18,34.13 L320.24,34.08 L320.31,34.03 L320.37,33.98 L320.43,33.93 L320.50,33.88 L320.56,33.83 L320.62,33.78 L320.68,33.73 L320.74,33.68 L320.81,33.63 L320.87,33.57 L320.93,33.52 L320.99,33.47 L321.05,33.42 L321.11,33.37 L321.17,33.32 L321.23,33.26 L321.29,33.21 L321.35,33.16 L321.40,33.11 L321.46,33.05 L321.52,33.00 L321.58,32.95 L321.64,32.90 L321.69,32.84 L321.75,32.79 L321.81,32.73 L321.86,32.68 L321.92,32.63 L321.97,32.57 L322.03,32.52 L322.08,32.46 L322.14,32.41 L322.19,32.35 L322.25,32.30 L322.30,32.24 L322.35,32.19 L322.41,32.13 L322.46,32.08 L322.51,32.02 L322.57,31.96 L322.62,31.91 L322.67,31.85 L322.72,31.80 L322.77,31.74 L322.82,31.68 L322.87,31.63 L322.92,31.57 L322.97,31.51 L323.02,31.46 L323.07,31.40 L323.12,31.34 L323.17,31.28 L323.21,31.23 L323.26,31.17 L323.31,31.11 L323.35,31.05 L323.40,30.99 L323.45,30.94 L323.49,30.88 L323.54,30.82 L323.58,30.76 L323.63,30.70 L323.67,30.64 L323.71,30.59 L323.76,30.53 L323.80,30.47 L323.84,30.41 L323.88,30.35 L323.93,30.29 L323.97,30.23 L324.01,30.17 L324.05,30.11 L324.09,30.05 L324.13,29.99" stroke="#6c96b8" fill="none" stroke-width="1.95" stroke-dasharray="6.3 2.5"/>
<path d="M294.76,30.63 L294.77,30.80 L294.79,30.97 L294.80,31.13 L294.82,31.30 L294.83,31.47 L294.85,31.64 L294.86,31.82 L294.87,31.99 L294.89,32.16 L294.90,32.34 L294.91,32.51 L294.92,32.69 L294.93,32.87 L294.94,33.05 L294.95,33.23 L294.96,33.41 L294.97,33.59 L294.98,33.77 L294.99,33.95 L295.00,34.14 L295.00,34.32 L295.01,34.50 L295.02,34.69 L295.03,34.88 L295.04,35.06 L295.04,35.25 L295.05,35.44 L295.06,35.63 L295.07,35.82 L295.08,36.01 L295.08,36.20 L295.09,36.39 L295.10,36.58 L295.11,36.77 L295.12,36.96 L295.13,37.15 L295.14,37.35 L295.15,37.54 L295.16,37.73 L295.17,37.93 L295.18,38.12 L295.19,38.31 L295.20,38.51 L295.21,38.70 L295.23,38.90 L295.24,39.09 L295.26,39.29 L295.27,39.48 L295.29,39.68 L295.30,39.87 L295.32,40.07 L295.34,40.26 L295.35,40.46 L295.37,40.65 L295.39,40.85 L295.41,41.04 L295.44,41.24 L295.46,41.43 L295.48,41.63 L295.51,41.82 L295.53,42.02 L295.56,42.21 L295.59,42.41 L295.62,42.60 L295.65,42.79 L295.68,42.99 L295.71,43.18 L295.74,43.37 L295.78,43.57 L295.81,43.76 L295.85,43.95 L295.89,44.14 L295.93,44.33 L295.97,44.52 L296.01,44.71 L296.06,44.90 L296.10,45.09 L296.15,45.28 L296.20,45.46 L296.25,45.65 L296.30,45.84 L296.35,46.02 L296.41,46.21 L296.46,46.39 L296.52,46.58 L296.58,46.76 L296.65,46.94 L296.71,47.12 L296.77,47.30 L296.84,47.48 L296.91,47.66 L296.98,47.84 L297.06,48.02 L297.13,48.19 L297.21,48.37 L297.29,48.54 L297.37,48.71 L297.45,48.89 L297.54,49.06 L297.62,49.23 L297.71,49.40 L297.81,49.56 L297.90,49.73 L298.00,49.90 L298.10,50.06 L298.20,50.22 L298.30,50.39 L298.41,50.55 L298.51,50.71 L298.62,50.86 L298.73,51.02 L298.85,51.18 L298.96,51.33 L299.08,51.48 L299.20,51.64 L299.32,51.79 L299.45,51.93 L299.57,52.08 L299.70,52.23 L299.83,52.37 L299.96,52.51 L300.09,52.66 L300.22,52.80 L300.36,52.93 L300.50,53.07 L300.64,53.20 L300.78,53.34 L300.92,53.47 L301.06,53.60 L301.21,53.73 L301.35,53.85 L301.50,53.98 L301.65,54.10 L301.80,54.22 L301.95,54.34 L302.10,54.46 L302.26,54.57 L302.41,54.68 L302.57,54.80 L302.73,54.90 L302.88,55.01 L303.04,55.12 L303.20,55.22 L303.36,55.32 L303.53,55.42 L303.69,55.52 L303.85,55.61 L304.02,55.71 L304.18,55.80 L304.35,55.89 L304.52,55.97 L304.69,56.06 L304.85,56.14 L305.02,56.22 L305.19,56.29 L305.36,56.37 L305.53,56.44 L305.71,56.51 L305.88,56.58 L306.05,56.64 L306.22,56.71 L306.40,56.77 L306.57,56.83 L306.74,56.88 L306.92,56.93 L307.09,56.98 L307.27,57.03 L307.44,57.08 L307.61,57.12 L307.79,57.16 L307.96,57.20 L308.14,57.23 L308.31,57.26 L308.49,57.29 L308.66,57.32 L308.84,57.34 L309.01,57.36 L309.19,57.38 L309.36,57.40 L309.53,57.41 L309.71,57.42 L309.88,57.43 L310.05,57.43 L310.23,57.43 L310.40,57.43 L310.57,57.42 L310.74,57.41 L310.91,57.40 L311.08,57.39 L311.25,57.37 L311.42,57.35 L311.59,57.33 L311.76,57.30 L311.92,57.27 L312.09,57.24 L312.26,57.20 L312.42,57.16 L312.59,57.12 L312.75,57.08 L312.91,57.03 L313.08,56.98 L313.24,56.93 L313.40,56.88 L313.56,56.82 L313.72,56.76 L313.88,56.70 L314.04,56.63 L314.20,56.56 L314.36,56.49 L314.51,56.42 L314.67,56.35 L314.83,56.27 L314.98,56.19 L315.13,56.11 L315.29,56.02 L315.44,55.94 L315.59,55.85 L315.74,55.76 L315.89,55.66 L316.04,55.57 L316.19,55.47 L316.34,55.37 L316.49,55.27 L316.64,55.16 L316.78,55.06 L316.93,54.95 L317.07,54.84 L317.22,54.73 L317.36,54.61 L317.50,54.50 L317.64,54.38 L317.78,54.26 L317.92,54.14 L318.06,54.01 L318.20,53.89 L318.34,53.76 L318.47,53.63 L318.61,53.50 L318.74,53.37 L318.88,53.24 L319.01,53.11 L319.14,52.97 L319.27,52.83 L319.40,52.69 L319.53,52.55 L319.66,52.41 L319.79,52.27 L319.91,52.12 L320.04,51.98 L320.17,51.83 L320.29,51.68 L320.41,51.53 L320.53,51.38 L320.66,51.23 L320.78,51.07 L320.89,50.92 L321.01,50.76 L321.13,50.61 L321.25,50.45 L321.36,50.29 L321.48,50.13 L321.59,49.97 L321.70,49.81 L321.81,49.65 L321.92,49.48 L322.03,49.32 L322.14,49.15 L322.25,48.99 L322.35,48.82 L322.46,48.65 L322.56,48.49 L322.67,48.32 L322.77,48.15 L322.87,47.98 L322.97,47.81 L323.07,47.64 L323.16,47.47 L323.26,47.30 L323.36,47.12 L323.45,46.95 L323.54,46.78 L323.64,46.61 L323.73,46.43 L323.82,46.26 L323.91,46.08 L323.99,45.91 L324.08,45.73 L324.17,45.56 L324.25,45.38 L324.34,45.21 L324.42,45.03 L324.50,44.86 L324.58,44.68 L324.67,44.50 L324.75,44.33 L324.82,44.15 L324.90,43.97 L324.98,43.79 L325.06,43.62 L325.14,43.44 L325.21,43.26 L325.29,43.08 L325.36,42.90 L325.44,42.73 L325.51,42.55 L325.58,42.37 L325.66,42.19 L325.73,42.01 L325.80,41.83 L325.87,41.65 L325.94,41.48 L326.01,41.30 L326.08,41.12 L326.15,40.94 L326.22,40.76 L326.29,40.58 L326.36,40.40 L326.43,40.22 L326.50,40.05 L326.57,39.87 L326.64,39.69 L326.71,39.51 L326.78,39.33 L326.85,39.15 L326.91,38.98 L326.98,38.80 L327.05,38.62 L327.12,38.44 L327.19,38.27 L327.26,38.09 L327.33,37.91 L327.40,37.73 L327.46,37.56 L327.53,37.38 L327.60,37.21 L327.67,37.03 L327.74,36.85 L327.81,36.68 L327.88,36.50 L327.95,36.33 L328.03,36.16 L328.10,35.98 L328.17,35.81 L328.24,35.63 L328.32,35.46 L328.39,35.29 L328.46,35.12 L328.54,34.95 L328.61,34.77 L328.69,34.60 L328.77,34.43 L328.84,34.26 L328.92,34.09 L329.00,33.92 L329.08,33.75 L329.16,33.59 L329.24,33.42 L329.32,33.25 L329.40,33.09 L329.48,32.92 L329.57,32.75 L329.65,32.59 L329.74,32.42 L329.83,32.26 L329.91,32.10 L330.00,31.93 L330.09,31.77 L330.18,31.61 L330.27,31.45 L330.37,31.29 L330.46,31.13 L330.55,30.97 L330.65,30.81 L330.75,30.66 L330.85,30.50 L330.95,30.34 L331.05,30.19 L331.15,30.03 L331.25,29.88 L331.36,29.73 L331.46,29.57 L331.57,29.42 L331.68,29.27 L331.79,29.12 L331.90,28.97 L332.02,28.82 L332.13,28.68 L332.25,28.53 L332.36,28.38 L332.48,28.24 L332.61,28.10 L332.73,27.95 L332.85,27.81 L332.98,27.67 L333.11,27.53 L333.24,27.39 L333.37,27.25 L333.50,27.12 L333.63,26.98" stroke="#587d9b" fill="none" stroke-width="1.95" stroke-dasharray="6.3 2.5"/>
<path d="M294.49,30.73 L294.55,30.95 L294.62,31.18 L294.68,31.41 L294.74,31.65 L294.80,31.88 L294.85,32.12 L294.91,32.35 L294.96,32.59 L295.01,32.83 L295.06,33.08 L295.11,33.32 L295.15,33.56 L295.20,33.81 L295.24,34.06 L295.28,34.31 L295.32,34.56 L295.36,34.81 L295.39,35.06 L295.43,35.32 L295.46,35.58 L295.50,35.83 L295.53,36.09 L295.56,36.35 L295.59,36.61 L295.62,36.87 L295.65,37.14 L295.67,37.40 L295.70,37.66 L295.73,37.93 L295.75,38.20 L295.77,38.47 L295.80,38.73 L295.82,39.00 L295.84,39.27 L295.86,39.55 L295.88,39.82 L295.90,40.09 L295.92,40.36 L295.94,40.64 L295.96,40.91 L295.97,41.19 L295.99,41.47 L296.01,41.74 L296.03,42.02 L296.04,42.30 L296.06,42.58 L296.08,42.85 L296.10,43.13 L296.11,43.41 L296.13,43.69 L296.15,43.97 L296.16,44.25 L296.18,44.53 L296.20,44.82 L296.22,45.10 L296.23,45.38 L296.25,45.66 L296.27,45.94 L296.29,46.22 L296.31,46.51 L296.33,46.79 L296.35,47.07 L296.37,47.35 L296.39,47.64 L296.42,47.92 L296.44,48.20 L296.46,48.48 L296.49,48.76 L296.52,49.04 L296.54,49.32 L296.57,49.61 L296.60,49.89 L296.63,50.17 L296.66,50.45 L296.69,50.73 L296.72,51.01 L296.76,51.28 L296.79,51.56 L296.83,51.84 L296.87,52.12 L296.91,52.40 L296.95,52.67 L296.99,52.95 L297.03,53.22 L297.08,53.50 L297.13,53.77 L297.18,54.04 L297.23,54.32 L297.28,54.59 L297.33,54.86 L297.39,55.13 L297.44,55.40 L297.50,55.66 L297.56,55.93 L297.63,56.20 L297.69,56.46 L297.76,56.73 L297.83,56.99 L297.90,57.25 L297.97,57.51 L298.05,57.77 L298.13,58.03 L298.21,58.29 L298.29,58.54 L298.38,58.80 L298.46,59.05 L298.55,59.30 L298.65,59.56 L298.74,59.81 L298.84,60.05 L298.94,60.30 L299.04,60.55 L299.15,60.79 L299.26,61.03 L299.37,61.27 L299.48,61.51 L299.60,61.75 L299.72,61.98 L299.85,62.22 L299.97,62.45 L300.10,62.68 L300.23,62.91 L300.37,63.14 L300.51,63.36 L300.65,63.59 L300.80,63.81 L300.94,64.03 L301.10,64.25 L301.25,64.46 L301.41,64.68 L301.57,64.89 L301.74,65.10 L301.91,65.31 L302.08,65.51 L302.26,65.72 L302.44,65.92 L302.62,66.11 L302.81,66.31 L303.00,66.50 L303.19,66.69 L303.39,66.87 L303.58,67.05 L303.78,67.23 L303.99,67.40 L304.19,67.57 L304.40,67.73 L304.61,67.89 L304.82,68.05 L305.04,68.20 L305.25,68.35 L305.47,68.49 L305.69,68.62 L305.92,68.75 L306.14,68.87 L306.37,68.99 L306.60,69.10 L306.82,69.21 L307.06,69.31 L307.29,69.40 L307.52,69.49 L307.76,69.56 L307.99,69.64 L308.23,69.70 L308.47,69.76 L308.70,69.81 L308.94,69.85 L309.18,69.89 L309.42,69.91 L309.66,69.93 L309.90,69.94 L310.15,69.94 L310.39,69.94 L310.63,69.93 L310.87,69.91 L311.11,69.88 L311.35,69.85 L311.59,69.80 L311.84,69.76 L312.07,69.70 L312.31,69.64 L312.55,69.57 L312.79,69.50 L313.02,69.42 L313.26,69.33 L313.49,69.24 L313.72,69.14 L313.96,69.03 L314.18,68.92 L314.41,68.80 L314.64,68.68 L314.86,68.55 L315.08,68.42 L315.30,68.28 L315.52,68.14 L315.73,67.99 L315.94,67.84 L316.15,67.68 L316.36,67.52 L316.56,67.35 L316.76,67.18 L316.96,67.01 L317.15,66.83 L317.34,66.65 L317.53,66.46 L317.71,66.27 L317.89,66.07 L318.07,65.88 L318.24,65.67 L318.41,65.47 L318.58,65.26 L318.74,65.05 L318.90,64.84 L319.06,64.62 L319.21,64.40 L319.36,64.17 L319.50,63.95 L319.65,63.72 L319.79,63.49 L319.93,63.25 L320.06,63.02 L320.19,62.78 L320.32,62.54 L320.45,62.29 L320.58,62.05 L320.70,61.80 L320.82,61.55 L320.94,61.30 L321.05,61.05 L321.17,60.79 L321.28,60.54 L321.39,60.28 L321.50,60.02 L321.61,59.76 L321.71,59.49 L321.82,59.23 L321.92,58.97 L322.02,58.70 L322.12,58.44 L322.22,58.17 L322.31,57.90 L322.41,57.63 L322.51,57.36 L322.60,57.09 L322.69,56.82 L322.79,56.55 L322.88,56.28 L322.97,56.01 L323.06,55.74 L323.15,55.47 L323.24,55.20 L323.33,54.93 L323.42,54.65 L323.51,54.38 L323.60,54.11 L323.69,53.84 L323.78,53.58 L323.87,53.31 L323.96,53.04 L324.05,52.77 L324.14,52.51 L324.23,52.24 L324.33,51.98 L324.42,51.72 L324.51,51.45 L324.61,51.19 L324.70,50.93 L324.80,50.68 L324.89,50.42 L324.99,50.17 L325.09,49.91 L325.19,49.66 L325.29,49.41 L325.39,49.16 L325.49,48.91 L325.59,48.66 L325.69,48.41 L325.79,48.16 L325.90,47.92 L326.00,47.67 L326.11,47.43 L326.21,47.18 L326.32,46.94 L326.42,46.70 L326.53,46.46 L326.64,46.22 L326.75,45.98 L326.86,45.74 L326.97,45.50 L327.08,45.26 L327.19,45.03 L327.30,44.79 L327.41,44.56 L327.52,44.32 L327.63,44.09 L327.75,43.85 L327.86,43.62 L327.98,43.38 L328.09,43.15 L328.21,42.92 L328.32,42.69 L328.44,42.45 L328.55,42.22 L328.67,41.99 L328.79,41.76 L328.91,41.53 L329.02,41.30 L329.14,41.07 L329.26,40.84 L329.38,40.60 L329.50,40.37 L329.62,40.14 L329.74,39.91 L329.86,39.68 L329.98,39.45 L330.10,39.22 L330.23,38.99 L330.35,38.76 L330.47,38.53 L330.59,38.30 L330.71,38.06 L330.84,37.83 L330.96,37.60 L331.08,37.37 L331.21,37.13 L331.33,36.90 L331.46,36.67 L331.58,36.43 L331.70,36.20 L331.83,35.96 L331.95,35.73 L332.08,35.49 L332.20,35.26 L332.33,35.02 L332.46,34.79 L332.58,34.55 L332.71,34.31 L332.83,34.07 L332.96,33.84 L333.09,33.60 L333.21,33.36 L333.34,33.12 L333.47,32.88 L333.59,32.64 L333.72,32.41 L333.85,32.17 L333.98,31.93 L334.11,31.69 L334.23,31.45 L334.36,31.21 L334.49,30.97 L334.62,30.73 L334.75,30.49 L334.88,30.25 L335.01,30.01 L335.14,29.77 L335.27,29.53 L335.40,29.29 L335.53,29.05 L335.66,28.81 L335.79,28.57 L335.92,28.34 L336.05,28.10 L336.18,27.86 L336.31,27.62 L336.44,27.38 L336.57,27.14 L336.70,26.90 L336.83,26.67 L336.97,26.43 L337.10,26.19 L337.23,25.95 L337.36,25.72 L337.50,25.48 L337.63,25.25 L337.76,25.01 L337.90,24.78 L338.03,24.54 L338.16,24.31 L338.30,24.07 L338.43,23.84 L338.56,23.60 L338.70,23.37 L338.83,23.14 L338.97,22.91 L339.10,22.68 L339.24,22.45 L339.37,22.22 L339.51,21.99 L339.64,21.76 L339.78,21.53 L339.91,21.30 L340.05,21.07 L340.18,20.85 L340.32,20.62 L340.46,20.40 L340.59,20.17 L340.73,19.95 L340.87,19.73 L341.00,19.50" stroke="#4a6b87" fill="none" stroke-width="1.95" stroke-dasharray="6.3 2.5"/>
<path d="M40.00,207.63 L40.90,206.07 L41.80,204.50 L42.71,202.94 L43.61,201.37 L44.51,199.80 L45.41,198.24 L46.32,196.67 L47.22,195.11 L48.12,193.54 L49.02,191.97 L49.92,190.41 L50.83,188.84 L51.73,187.28 L52.63,185.71 L53.53,184.14 L54.44,182.58 L55.34,181.01 L56.24,179.45 L57.14,177.88 L58.05,176.31 L58.95,174.75 L59.85,173.18 L60.75,171.62 L61.65,170.05 L62.56,168.49 L63.46,166.92 L64.36,165.35 L65.26,163.79 L66.17,162.22 L67.07,160.66 L67.97,159.09 L68.87,157.52 L69.77,155.96 L70.68,154.39 L71.58,152.83 L72.48,151.26 L73.38,149.69 L74.29,148.13 L75.19,146.56 L76.09,145.00 L76.99,143.43 L77.89,141.86 L78.80,140.30 L79.70,138.73 L80.60,137.17 L81.50,135.60 L82.41,134.03 L83.31,132.47 L84.21,130.90 L85.11,129.34 L86.02,127.77 L86.92,126.20 L87.82,124.64 L88.72,123.07 L89.62,121.51 L90.53,119.94 L91.43,118.37 L92.33,116.81 L93.23,115.24 L94.14,113.68 L95.04,112.11 L95.94,110.54 L96.84,108.98 L97.74,107.41 L98.65,105.85 L99.55,104.28 L100.45,102.72 L101.35,101.15 L102.26,99.58 L103.16,98.02 L104.06,96.45 L104.96,94.89 L105.86,93.32 L106.77,91.76 L107.67,90.19 L108.57,88.63 L109.47,87.06 L110.38,85.50 L111.28,83.94 L112.18,82.37 L113.08,80.81 L113.98,79.25 L114.89,77.69 L115.79,76.14 L116.69,74.59 L117.59,73.04 L118.50,71.49 L119.40,69.96 L120.30,68.43 L121.20,66.91 L122.11,65.41 L123.01,63.93 L123.91,62.47 L124.81,61.05 L125.71,59.66 L126.62,58.32 L127.52,57.04 L128.42,55.83 L129.32,54.71 L130.23,53.69 L131.13,52.78 L132.03,52.00 L132.93,51.36 L133.83,50.85 L134.74,50.49 L135.64,50.26 L136.54,50.16 L137.44,50.18 L138.35,50.29 L139.25,50.49 L140.15,50.77 L141.05,51.10 L141.95,51.49 L142.86,51.91 L143.76,52.37 L144.66,52.84 L145.56,53.34 L146.47,53.86 L147.37,54.38 L148.27,54.91 L149.17,55.45 L150.08,56.00 L150.98,56.55 L151.88,57.10 L152.78,57.66 L153.68,58.21 L154.59,58.77 L155.49,59.33 L156.39,59.89 L157.29,60.45 L158.20,61.02 L159.10,61.58 L160.00,62.14 L160.90,62.70 L161.80,63.27 L162.71,63.83 L163.61,64.39 L164.51,64.95 L165.41,65.52 L166.32,66.08 L167.22,66.64 L168.12,67.21 L169.02,67.77 L169.92,68.33 L170.83,68.90 L171.73,69.46 L172.63,70.02 L173.53,70.59 L174.44,71.15 L175.34,71.71 L176.24,72.28 L177.14,72.84 L178.05,73.40 L178.95,73.97 L179.85,74.53 L180.75,75.09 L181.65,75.66 L182.56,76.22 L183.46,76.78 L184.36,77.35 L185.26,77.91 L186.17,78.47 L187.07,79.04 L187.97,79.60 L188.87,80.16 L189.77,80.73 L190.68,81.29 L191.58,81.85 L192.48,82.42 L193.38,82.98 L194.29,83.54 L195.19,84.11 L196.09,84.67 L196.99,85.23 L197.89,85.80 L198.80,86.36 L199.70,86.92 L200.60,87.49 L201.50,88.05 L202.41,88.61 L203.31,89.18 L204.21,89.74 L205.11,90.30 L206.02,90.87 L206.92,91.43 L207.82,91.99 L208.72,92.56 L209.62,93.12 L210.53,93.68 L211.43,94.25 L212.33,94.81 L213.23,95.37 L214.14,95.94 L215.04,96.50 L215.94,97.06 L216.84,97.63 L217.74,98.19 L218.65,98.75 L219.55,99.31 L220.45,99.88 L221.35,100.44 L222.26,101.00 L223.16,101.57 L224.06,102.13 L224.96,102.69 L225.86,103.26 L226.77,103.82 L227.67,104.38 L228.57,104.95 L229.47,105.51 L230.38,106.07 L231.28,106.64 L232.18,107.20 L233.08,107.76 L233.98,108.33 L234.89,108.89 L235.79,109.45 L236.69,110.02 L237.59,110.58 L238.50,111.14 L239.40,111.71 L240.30,112.27 L241.20,112.83 L242.11,113.40 L243.01,113.96 L243.91,114.52 L244.81,115.09 L245.71,115.65 L246.62,116.21 L247.52,116.78 L248.42,117.34 L249.32,117.90 L250.23,118.47 L251.13,119.03 L252.03,119.59 L252.93,120.16 L253.83,120.72 L254.74,121.28 L255.64,121.85 L256.54,122.41 L257.44,122.97 L258.35,123.54 L259.25,124.10 L260.15,124.66 L261.05,125.23 L261.95,125.79 L262.86,126.35 L263.76,126.92 L264.66,127.48 L265.56,128.04 L266.47,128.61 L267.37,129.17 L268.27,129.73 L269.17,130.30 L270.08,130.86 L270.98,131.42 L271.88,131.99 L272.78,132.55 L273.68,133.11 L274.59,133.68 L275.49,134.24 L276.39,134.80 L277.29,135.37 L278.20,135.93 L279.10,136.49 L280.00,137.06 L280.90,137.62 L281.80,138.18 L282.71,138.75 L283.61,139.31 L284.51,139.87 L285.41,140.44 L286.32,141.00 L287.22,141.56 L288.12,142.13 L289.02,142.69 L289.92,143.25 L290.83,143.82 L291.73,144.38 L292.63,144.94 L293.53,145.51 L294.44,146.07 L295.34,146.63 L296.24,147.20 L297.14,147.76 L298.05,148.32 L298.95,148.89 L299.85,149.45 L300.75,150.01 L301.65,150.58 L302.56,151.14 L303.46,151.70 L304.36,152.27 L305.26,152.83 L306.17,153.39 L307.07,153.96 L307.97,154.52 L308.87,155.08 L309.77,155.65 L310.68,156.21 L311.58,156.77 L312.48,157.34 L313.38,157.90 L314.29,158.46 L315.19,159.03 L316.09,159.59 L316.99,160.15 L317.89,160.72 L318.80,161.28 L319.70,161.84 L320.60,162.41 L321.50,162.97 L322.41,163.53 L323.31,164.10 L324.21,164.66 L325.11,165.22 L326.02,165.78 L326.92,166.35 L327.82,166.91 L328.72,167.47 L329.62,168.04 L330.53,168.60 L331.43,169.16 L332.33,169.73 L333.23,170.29 L334.14,170.85 L335.04,171.42 L335.94,171.98 L336.84,172.54 L337.74,173.11 L338.65,173.67 L339.55,174.23 L340.45,174.80 L341.35,175.36 L342.26,175.92 L343.16,176.49 L344.06,177.05 L344.96,177.61 L345.86,178.18 L346.77,178.74 L347.67,179.30 L348.57,179.87 L349.47,180.43 L350.38,180.99 L351.28,181.56 L352.18,182.12 L353.08,182.68 L353.98,183.25 L354.89,183.81 L355.79,184.37 L356.69,184.94 L357.59,185.50 L358.50,186.06 L359.40,186.63 L360.30,187.19 L361.20,187.75 L362.11,188.32 L363.01,188.88 L363.91,189.44 L364.81,190.01 L365.71,190.57 L366.62,191.13 L367.52,191.70 L368.42,192.26 L369.32,192.82 L370.23,193.39 L371.13,193.95 L372.03,194.51 L372.93,195.08 L373.83,195.64 L374.74,196.20 L375.64,196.77 L376.54,197.33 L377.44,197.89 L378.35,198.46 L379.25,199.02 L380.15,199.58 L381.05,200.15 L381.95,200.71 L382.86,201.27 L383.76,201.84 L384.66,202.40 L385.56,202.96 L386.47,203.53 L387.37,204.09 L388.27,204.65 L389.17,205.22 L390.08,205.78 L390.98,206.34 L391.88,206.91 L392.78,207.47 L393.68,208.03 L394.59,208.60 L395.49,209.16 L396.39,209.72 L397.29,210.29 L398.20,210.85 L399.10,211.41 L400.00,211.98" stroke="#000" stroke-width="1.55" fill="none"/>
<path d="M40.00,287.54 L40.90,285.96 L41.80,284.38 L42.71,282.79 L43.61,281.21 L44.51,279.63 L45.41,278.04 L46.32,276.46 L47.22,274.88 L48.12,273.30 L49.02,271.71 L49.92,270.13 L50.83,268.55 L51.73,266.96 L52.63,265.38 L53.53,263.80 L54.44,262.22 L55.34,260.63 L56.24,259.05 L57.14,257.47 L58.05,255.88 L58.95,254.30 L59.85,252.72 L60.75,251.14 L61.65,249.55 L62.56,247.97 L63.46,246.39 L64.36,244.80 L65.26,243.22 L66.17,241.64 L67.07,240.06 L67.97,238.47 L68.87,236.89 L69.77,235.31 L70.68,233.72 L71.58,232.14 L72.48,230.56 L73.38,228.98 L74.29,227.39 L75.19,225.81 L76.09,224.23 L76.99,222.64 L77.89,221.06 L78.80,219.48 L79.70,217.90 L80.60,216.31 L81.50,214.73 L82.41,213.15 L83.31,211.56 L84.21,209.98 L85.11,208.40 L86.02,206.82 L86.92,205.23 L87.82,203.65 L88.72,202.07 L89.62,200.48 L90.53,198.90 L91.43,197.32 L92.33,195.74 L93.23,194.15 L94.14,192.57 L95.04,190.99 L95.94,189.40 L96.84,187.82 L97.74,186.24 L98.65,184.65 L99.55,183.07 L100.45,181.49 L101.35,179.91 L102.26,178.32 L103.16,176.74 L104.06,175.16 L104.96,173.57 L105.86,171.99 L106.77,170.41 L107.67,168.83 L108.57,167.24 L109.47,165.66 L110.38,164.08 L111.28,162.49 L112.18,160.91 L113.08,159.33 L113.98,157.75 L114.89,156.16 L115.79,154.58 L116.69,153.00 L117.59,151.41 L118.50,149.83 L119.40,148.25 L120.30,146.67 L121.20,145.08 L122.11,143.50 L123.01,141.92 L123.91,140.33 L124.81,138.75 L125.71,137.17 L126.62,135.59 L127.52,134.00 L128.42,132.42 L129.32,130.84 L130.23,129.26 L131.13,127.67 L132.03,126.09 L132.93,124.51 L133.83,122.93 L134.74,121.34 L135.64,119.76 L136.54,118.18 L137.44,116.60 L138.35,115.02 L139.25,113.44 L140.15,111.86 L141.05,110.28 L141.95,108.70 L142.86,107.12 L143.76,105.54 L144.66,103.97 L145.56,102.40 L146.47,100.83 L147.37,99.27 L148.27,97.71 L149.17,96.15 L150.08,94.61 L150.98,93.07 L151.88,91.54 L152.78,90.03 L153.68,88.54 L154.59,87.07 L155.49,85.63 L156.39,84.22 L157.29,82.86 L158.20,81.55 L159.10,80.29 L160.00,79.11 L160.90,78.01 L161.80,77.01 L162.71,76.10 L163.61,75.32 L164.51,74.65 L165.41,74.11 L166.32,73.69 L167.22,73.40 L168.12,73.22 L169.02,73.16 L169.92,73.19 L170.83,73.31 L171.73,73.51 L172.63,73.77 L173.53,74.09 L174.44,74.46 L175.34,74.86 L176.24,75.30 L177.14,75.76 L178.05,76.24 L178.95,76.74 L179.85,77.25 L180.75,77.77 L181.65,78.30 L182.56,78.84 L183.46,79.38 L184.36,79.93 L185.26,80.48 L186.17,81.03 L187.07,81.58 L187.97,82.14 L188.87,82.70 L189.77,83.26 L190.68,83.82 L191.58,84.38 L192.48,84.94 L193.38,85.50 L194.29,86.06 L195.19,86.62 L196.09,87.18 L196.99,87.74 L197.89,88.31 L198.80,88.87 L199.70,89.43 L200.60,89.99 L201.50,90.56 L202.41,91.12 L203.31,91.68 L204.21,92.24 L205.11,92.81 L206.02,93.37 L206.92,93.93 L207.82,94.49 L208.72,95.06 L209.62,95.62 L210.53,96.18 L211.43,96.74 L212.33,97.31 L213.23,97.87 L214.14,98.43 L215.04,98.99 L215.94,99.56 L216.84,100.12 L217.74,100.68 L218.65,101.25 L219.55,101.81 L220.45,102.37 L221.35,102.93 L222.26,103.50 L223.16,104.06 L224.06,104.62 L224.96,105.18 L225.86,105.75 L226.77,106.31 L227.67,106.87 L228.57,107.43 L229.47,108.00 L230.38,108.56 L231.28,109.12 L232.18,109.68 L233.08,110.25 L233.98,110.81 L234.89,111.37 L235.79,111.93 L236.69,112.50 L237.59,113.06 L238.50,113.62 L239.40,114.19 L240.30,114.75 L241.20,115.31 L242.11,115.87 L243.01,116.44 L243.91,117.00 L244.81,117.56 L245.71,118.12 L246.62,118.69 L247.52,119.25 L248.42,119.81 L249.32,120.37 L250.23,120.94 L251.13,121.50 L252.03,122.06 L252.93,122.62 L253.83,123.19 L254.74,123.75 L255.64,124.31 L256.54,124.87 L257.44,125.44 L258.35,126.00 L259.25,126.56 L260.15,127.13 L261.05,127.69 L261.95,128.25 L262.86,128.81 L263.76,129.38 L264.66,129.94 L265.56,130.50 L266.47,131.06 L267.37,131.63 L268.27,132.19 L269.17,132.75 L270.08,133.31 L270.98,133.88 L271.88,134.44 L272.78,135.00 L273.68,135.56 L274.59,136.13 L275.49,136.69 L276.39,137.25 L277.29,137.81 L278.20,138.38 L279.10,138.94 L280.00,139.50 L280.90,140.07 L281.80,140.63 L282.71,141.19 L283.61,141.75 L284.51,142.32 L285.41,142.88 L286.32,143.44 L287.22,144.00 L288.12,144.57 L289.02,145.13 L289.92,145.69 L290.83,146.25 L291.73,146.82 L292.63,147.38 L293.53,147.94 L294.44,148.50 L295.34,149.07 L296.24,149.63 L297.14,150.19 L298.05,150.75 L298.95,151.32 L299.85,151.88 L300.75,152.44 L301.65,153.01 L302.56,153.57 L303.46,154.13 L304.36,154.69 L305.26,155.26 L306.17,155.82 L307.07,156.38 L307.97,156.94 L308.87,157.51 L309.77,158.07 L310.68,158.63 L311.58,159.19 L312.48,159.76 L313.38,160.32 L314.29,160.88 L315.19,161.44 L316.09,162.01 L316.99,162.57 L317.89,163.13 L318.80,163.69 L319.70,164.26 L320.60,164.82 L321.50,165.38 L322.41,165.95 L323.31,166.51 L324.21,167.07 L325.11,167.63 L326.02,168.20 L326.92,168.76 L327.82,169.32 L328.72,169.88 L329.62,170.45 L330.53,171.01 L331.43,171.57 L332.33,172.13 L333.23,172.70 L334.14,173.26 L335.04,173.82 L335.94,174.38 L336.84,174.95 L337.74,175.51 L338.65,176.07 L339.55,176.63 L340.45,177.20 L341.35,177.76 L342.26,178.32 L343.16,178.89 L344.06,179.45 L344.96,180.01 L345.86,180.57 L346.77,181.14 L347.67,181.70 L348.57,182.26 L349.47,182.82 L350.38,183.39 L351.28,183.95 L352.18,184.51 L353.08,185.07 L353.98,185.64 L354.89,186.20 L355.79,186.76 L356.69,187.32 L357.59,187.89 L358.50,188.45 L359.40,189.01 L360.30,189.58 L361.20,190.14 L362.11,190.70 L363.01,191.26 L363.91,191.83 L364.81,192.39 L365.71,192.95 L366.62,193.51 L367.52,194.08 L368.42,194.64 L369.32,195.20 L370.23,195.76 L371.13,196.33 L372.03,196.89 L372.93,197.45 L373.83,198.01 L374.74,198.58 L375.64,199.14 L376.54,199.70 L377.44,200.26 L378.35,200.83 L379.25,201.39 L380.15,201.95 L381.05,202.52 L381.95,203.08 L382.86,203.64 L383.76,204.20 L384.66,204.77 L385.56,205.33 L386.47,205.89 L387.37,206.45 L388.27,207.02 L389.17,207.58 L390.08,208.14 L390.98,208.70 L391.88,209.27 L392.78,209.83 L393.68,210.39 L394.59,210.95 L395.49,211.52 L396.39,212.08 L397.29,212.64 L398.20,213.20 L399.10,213.77 L400.00,214.33" stroke="#9c9c9c" stroke-width="1.5" fill="none"/>
<path d="M157.29,298.47 L158.20,296.88 L159.10,295.28 L160.00,293.69 L160.90,292.09 L161.80,290.50 L162.71,288.90 L163.61,287.30 L164.51,285.71 L165.41,284.11 L166.32,282.52 L167.22,280.92 L168.12,279.33 L169.02,277.73 L169.92,276.14 L170.83,274.54 L171.73,272.94 L172.63,271.35 L173.53,269.75 L174.44,268.16 L175.34,266.56 L176.24,264.97 L177.14,263.37 L178.05,261.78 L178.95,260.18 L179.85,258.59 L180.75,256.99 L181.65,255.39 L182.56,253.80 L183.46,252.20 L184.36,250.61 L185.26,249.01 L186.17,247.42 L187.07,245.82 L187.97,244.23 L188.87,242.63 L189.77,241.03 L190.68,239.44 L191.58,237.84 L192.48,236.25 L193.38,234.65 L194.29,233.06 L195.19,231.46 L196.09,229.87 L196.99,228.27 L197.89,226.67 L198.80,225.08 L199.70,223.48 L200.60,221.89 L201.50,220.29 L202.41,218.70 L203.31,217.10 L204.21,215.51 L205.11,213.91 L206.02,212.32 L206.92,210.72 L207.82,209.12 L208.72,207.53 L209.62,205.93 L210.53,204.34 L211.43,202.74 L212.33,201.15 L213.23,199.55 L214.14,197.96 L215.04,196.36 L215.94,194.76 L216.84,193.17 L217.74,191.57 L218.65,189.98 L219.55,188.38 L220.45,186.79 L221.35,185.19 L222.26,183.60 L223.16,182.00 L224.06,180.41 L224.96,178.81 L225.86,177.21 L226.77,175.62 L227.67,174.02 L228.57,172.43 L229.47,170.83 L230.38,169.24 L231.28,167.64 L232.18,166.05 L233.08,164.45 L233.98,162.85 L234.89,161.26 L235.79,159.66 L236.69,158.07 L237.59,156.47 L238.50,154.88 L239.40,153.28 L240.30,151.69 L241.20,150.09 L242.11,148.50 L243.01,146.90 L243.91,145.30 L244.81,143.71 L245.71,142.11 L246.62,140.52 L247.52,138.92 L248.42,137.33 L249.32,135.73 L250.23,134.14 L251.13,132.54 L252.03,130.94 L252.93,129.35 L253.83,127.75 L254.74,126.16 L255.64,124.56 L256.54,122.97 L257.44,121.37 L258.35,119.78 L259.25,118.18 L260.15,116.59 L261.05,114.99 L261.95,113.39 L262.86,111.80 L263.76,110.20 L264.66,108.61 L265.56,107.01 L266.47,105.42 L267.37,103.82 L268.27,102.23 L269.17,100.63 L270.08,99.04 L270.98,97.44 L271.88,95.85 L272.78,94.25 L273.68,92.66 L274.59,91.06 L275.49,89.47 L276.39,87.87 L277.29,86.28 L278.20,84.69 L279.10,83.09 L280.00,81.50 L280.90,79.91 L281.80,78.32 L282.71,76.73 L283.61,75.14 L284.51,73.56 L285.41,71.97 L286.32,70.39 L287.22,68.81 L288.12,67.24 L289.02,65.67 L289.92,64.11 L290.83,62.55 L291.73,61.01 L292.63,59.47 L293.53,57.95 L294.44,56.44 L295.34,54.96 L296.24,53.50 L297.14,52.07 L298.05,50.67 L298.95,49.31 L299.85,48.00 L300.75,46.75 L301.65,45.57 L302.56,44.45 L303.46,43.42 L304.36,42.48 L305.26,41.64 L306.17,40.91 L307.07,40.29 L307.97,39.78 L308.87,39.38 L309.77,39.09 L310.68,38.90 L311.58,38.82 L312.48,38.82 L313.38,38.91 L314.29,39.07 L315.19,39.30 L316.09,39.58 L316.99,39.91 L317.89,40.28 L318.80,40.68 L319.70,41.11 L320.60,41.56 L321.50,42.04 L322.41,42.53 L323.31,43.03 L324.21,43.55 L325.11,44.07 L326.02,44.61 L326.92,45.14 L327.82,45.69 L328.72,46.23 L329.62,46.78 L330.53,47.33 L331.43,47.89 L332.33,48.44 L333.23,49.00 L334.14,49.56 L335.04,50.12 L335.94,50.68 L336.84,51.24 L337.74,51.80 L338.65,52.37 L339.55,52.93 L340.45,53.49 L341.35,54.05 L342.26,54.62 L343.16,55.18 L344.06,55.74 L344.96,56.31 L345.86,56.87 L346.77,57.43 L347.67,58.00 L348.57,58.56 L349.47,59.12 L350.38,59.69 L351.28,60.25 L352.18,60.82 L353.08,61.38 L353.98,61.94 L354.89,62.51 L355.79,63.07 L356.69,63.63 L357.59,64.20 L358.50,64.76 L359.40,65.32 L360.30,65.89 L361.20,66.45 L362.11,67.02 L363.01,67.58 L363.91,68.14 L364.81,68.71 L365.71,69.27 L366.62,69.83 L367.52,70.40 L368.42,70.96 L369.32,71.53 L370.23,72.09 L371.13,72.65 L372.03,73.22 L372.93,73.78 L373.83,74.34 L374.74,74.91 L375.64,75.47 L376.54,76.04 L377.44,76.60 L378.35,77.16 L379.25,77.73 L380.15,78.29 L381.05,78.85 L381.95,79.42 L382.86,79.98 L383.76,80.55 L384.66,81.11 L385.56,81.67 L386.47,82.24 L387.37,82.80 L388.27,83.36 L389.17,83.93 L390.08,84.49 L390.98,85.06 L391.88,85.62 L392.78,86.18 L393.68,86.75 L394.59,87.31 L395.49,87.87 L396.39,88.44 L397.29,89.00 L398.20,89.57 L399.10,90.13 L400.00,90.69" stroke="#000" stroke-width="1.55" fill="none"/>
<path d="M191.58,299.87 L192.48,298.25 L193.38,296.64 L194.29,295.03 L195.19,293.42 L196.09,291.81 L196.99,290.20 L197.89,288.59 L198.80,286.98 L199.70,285.37 L200.60,283.76 L201.50,282.15 L202.41,280.54 L203.31,278.93 L204.21,277.32 L205.11,275.71 L206.02,274.10 L206.92,272.49 L207.82,270.88 L208.72,269.27 L209.62,267.66 L210.53,266.05 L211.43,264.44 L212.33,262.83 L213.23,261.22 L214.14,259.61 L215.04,258.00 L215.94,256.39 L216.84,254.78 L217.74,253.17 L218.65,251.56 L219.55,249.95 L220.45,248.34 L221.35,246.73 L222.26,245.12 L223.16,243.51 L224.06,241.90 L224.96,240.29 L225.86,238.68 L226.77,237.07 L227.67,235.45 L228.57,233.84 L229.47,232.23 L230.38,230.62 L231.28,229.01 L232.18,227.40 L233.08,225.79 L233.98,224.18 L234.89,222.57 L235.79,220.96 L236.69,219.35 L237.59,217.74 L238.50,216.13 L239.40,214.52 L240.30,212.91 L241.20,211.30 L242.11,209.69 L243.01,208.08 L243.91,206.47 L244.81,204.86 L245.71,203.25 L246.62,201.64 L247.52,200.03 L248.42,198.42 L249.32,196.81 L250.23,195.20 L251.13,193.59 L252.03,191.98 L252.93,190.37 L253.83,188.76 L254.74,187.15 L255.64,185.54 L256.54,183.93 L257.44,182.32 L258.35,180.71 L259.25,179.10 L260.15,177.49 L261.05,175.88 L261.95,174.26 L262.86,172.65 L263.76,171.04 L264.66,169.43 L265.56,167.82 L266.47,166.21 L267.37,164.60 L268.27,162.99 L269.17,161.38 L270.08,159.77 L270.98,158.16 L271.88,156.55 L272.78,154.94 L273.68,153.33 L274.59,151.72 L275.49,150.11 L276.39,148.50 L277.29,146.89 L278.20,145.28 L279.10,143.67 L280.00,142.06 L280.90,140.45 L281.80,138.84 L282.71,137.23 L283.61,135.62 L284.51,134.01 L285.41,132.40 L286.32,130.79 L287.22,129.18 L288.12,127.57 L289.02,125.96 L289.92,124.35 L290.83,122.74 L291.73,121.13 L292.63,119.52 L293.53,117.91 L294.44,116.30 L295.34,114.69 L296.24,113.08 L297.14,111.47 L298.05,109.86 L298.95,108.25 L299.85,106.65 L300.75,105.04 L301.65,103.43 L302.56,101.82 L303.46,100.22 L304.36,98.61 L305.26,97.01 L306.17,95.41 L307.07,93.81 L307.97,92.21 L308.87,90.61 L309.77,89.02 L310.68,87.43 L311.58,85.85 L312.48,84.27 L313.38,82.70 L314.29,81.14 L315.19,79.59 L316.09,78.05 L316.99,76.52 L317.89,75.02 L318.80,73.53 L319.70,72.07 L320.60,70.65 L321.50,69.25 L322.41,67.91 L323.31,66.61 L324.21,65.36 L325.11,64.19 L326.02,63.08 L326.92,62.06 L327.82,61.12 L328.72,60.29 L329.62,59.55 L330.53,58.92 L331.43,58.40 L332.33,57.98 L333.23,57.67 L334.14,57.46 L335.04,57.35 L335.94,57.32 L336.84,57.38 L337.74,57.50 L338.65,57.69 L339.55,57.94 L340.45,58.23 L341.35,58.57 L342.26,58.94 L343.16,59.34 L344.06,59.77 L344.96,60.21 L345.86,60.68 L346.77,61.16 L347.67,61.65 L348.57,62.16 L349.47,62.67 L350.38,63.18 L351.28,63.71 L352.18,64.23 L353.08,64.77 L353.98,65.30 L354.89,65.84 L355.79,66.38 L356.69,66.92 L357.59,67.46 L358.50,68.01 L359.40,68.55 L360.30,69.10 L361.20,69.64 L362.11,70.19 L363.01,70.74 L363.91,71.28 L364.81,71.83 L365.71,72.38 L366.62,72.93 L367.52,73.48 L368.42,74.03 L369.32,74.57 L370.23,75.12 L371.13,75.67 L372.03,76.22 L372.93,76.77 L373.83,77.32 L374.74,77.87 L375.64,78.42 L376.54,78.97 L377.44,79.52 L378.35,80.07 L379.25,80.61 L380.15,81.16 L381.05,81.71 L381.95,82.26 L382.86,82.81 L383.76,83.36 L384.66,83.91 L385.56,84.46 L386.47,85.01 L387.37,85.56 L388.27,86.11 L389.17,86.66 L390.08,87.20 L390.98,87.75 L391.88,88.30 L392.78,88.85 L393.68,89.40 L394.59,89.95 L395.49,90.50 L396.39,91.05 L397.29,91.60 L398.20,92.15 L399.10,92.70 L400.00,93.25" stroke="#9c9c9c" stroke-width="1.5" fill="none"/>

</g>
<rect x="190.00" y="200.50" width="76" height="19.30" fill="#fff"/>
<text x="193.30" y="214.90" font-size="11.4" font-style="italic">v</text>
<text transform="translate(200.30,216.70) scale(1.22,1)" font-size="8.7" font-style="italic">ϕ</text>
<path d="M207.20,210.30h6.1M207.20,213.10h6.1" stroke="#000" stroke-width="1.25"/>
<text x="214.95" y="214.70" font-size="12.5"><tspan class="h1">1</tspan>0</text>
<text x="228.80" y="208.40" font-size="9.2">9</text>
<text x="236.80" y="214.70" font-size="12.5">GeV</text>
<rect x="301.30" y="168.20" width="76" height="19.30" fill="#fff"/>
<text x="304.60" y="182.60" font-size="11.4" font-style="italic">v</text>
<text transform="translate(311.60,184.40) scale(1.22,1)" font-size="8.7" font-style="italic">ϕ</text>
<path d="M318.50,178.00h6.1M318.50,180.80h6.1" stroke="#000" stroke-width="1.25"/>
<text x="326.25" y="182.40" font-size="12.5"><tspan class="h1">1</tspan>0</text>
<text x="340.10" y="176.10" font-size="9.2">4</text>
<text x="348.10" y="182.40" font-size="12.5">GeV</text>
<path d="M55.5,1.5H386.5V247.5H55.5Z" fill="none" stroke="#000" stroke-width="1.25"/>
<path d="M73.50,247.50v-2.6 M73.50,1.50v2.6 M91.50,247.50v-2.6 M91.50,1.50v2.6 M110.50,247.50v-4.3 M110.50,1.50v4.3 M128.50,247.50v-2.6 M128.50,1.50v2.6 M147.50,247.50v-2.6 M147.50,1.50v2.6 M165.50,247.50v-2.6 M165.50,1.50v2.6 M184.50,247.50v-4.3 M184.50,1.50v4.3 M202.50,247.50v-2.6 M202.50,1.50v2.6 M220.50,247.50v-2.6 M220.50,1.50v2.6 M239.50,247.50v-2.6 M239.50,1.50v2.6 M257.50,247.50v-4.3 M257.50,1.50v4.3 M276.50,247.50v-2.6 M276.50,1.50v2.6 M294.50,247.50v-2.6 M294.50,1.50v2.6 M312.50,247.50v-2.6 M312.50,1.50v2.6 M331.50,247.50v-4.3 M331.50,1.50v4.3 M349.50,247.50v-2.6 M349.50,1.50v2.6 M368.50,247.50v-2.6 M368.50,1.50v2.6 M55.50,240.50h2.6 M386.50,240.50h-2.6 M55.50,228.50h4.3 M386.50,228.50h-4.3 M55.50,217.50h2.6 M386.50,217.50h-2.6 M55.50,205.50h2.6 M386.50,205.50h-2.6 M55.50,193.50h2.6 M386.50,193.50h-2.6 M55.50,182.50h4.3 M386.50,182.50h-4.3 M55.50,170.50h2.6 M386.50,170.50h-2.6 M55.50,159.50h2.6 M386.50,159.50h-2.6 M55.50,147.50h2.6 M386.50,147.50h-2.6 M55.50,136.50h4.3 M386.50,136.50h-4.3 M55.50,124.50h2.6 M386.50,124.50h-2.6 M55.50,112.50h2.6 M386.50,112.50h-2.6 M55.50,101.50h2.6 M386.50,101.50h-2.6 M55.50,89.50h4.3 M386.50,89.50h-4.3 M55.50,78.50h2.6 M386.50,78.50h-2.6 M55.50,66.50h2.6 M386.50,66.50h-2.6 M55.50,54.50h2.6 M386.50,54.50h-2.6 M55.50,43.50h4.3 M386.50,43.50h-4.3 M55.50,31.50h2.6 M386.50,31.50h-2.6 M55.50,20.50h2.6 M386.50,20.50h-2.6 M55.50,8.50h2.6 M386.50,8.50h-2.6" stroke="#000" stroke-width="1.2" fill="none"/>
<g font-size="14"><text x="110.30" y="263.3" text-anchor="middle"><tspan dy="1.2">−</tspan><tspan dx="1.1" dy="-1.2">4</tspan></text><text x="184.00" y="263.3" text-anchor="middle"><tspan dy="1.2">−</tspan><tspan dx="1.1" dy="-1.2">2</tspan></text><text x="257.70" y="263.3" text-anchor="middle">0</text><text x="331.40" y="263.3" text-anchor="middle">2</text><text x="50.1" y="47.80" text-anchor="end"><tspan dy="1.2">−</tspan><tspan dx="1.1" dy="-1.2">8</tspan></text><text x="50.1" y="94.10" text-anchor="end"><tspan dy="1.2">−</tspan><tspan dx="1.1" dy="-1.2"><tspan class="h1">1</tspan>0</tspan></text><text x="50.1" y="140.40" text-anchor="end"><tspan dy="1.2">−</tspan><tspan dx="1.1" dy="-1.2"><tspan class="h1">1</tspan>2</tspan></text><text x="50.1" y="186.70" text-anchor="end"><tspan dy="1.2">−</tspan><tspan dx="1.1" dy="-1.2"><tspan class="h1">1</tspan>4</tspan></text><text x="50.1" y="233.00" text-anchor="end"><tspan dy="1.2">−</tspan><tspan dx="1.1" dy="-1.2"><tspan class="h1">1</tspan>6</tspan></text></g>
<text x="189.3" y="285.6" font-size="14">log<tspan font-size="10" dy="3"><tspan class="h1">1</tspan>0</tspan><tspan dy="-3">(f/Hz)</tspan></text>
<text transform="translate(12.5,162.3) rotate(-90)" font-size="14">log<tspan font-size="10" dy="3"><tspan class="h1">1</tspan>0</tspan><tspan dy="-3">(Ω</tspan><tspan font-size="10" dy="3">gw</tspan><tspan dy="-3" dx="0.4" font-style="italic">h</tspan><tspan font-size="10" dy="-5.5">2</tspan><tspan dy="5.5" dx="0">)</tspan></text>
<g fill="#000" stroke="#000" stroke-width="0.3" style="vector-effect:non-scaling-stroke"><path class="one" transform="matrix(1.0000,0.0000,0.0000,1.0000,0.000,0.000) translate(214.950,214.700) scale(0.006104,-0.006104)" d="M515,0L696,0L696,1409L530,1409L197,1180L197,1010L515,1237Z"/><path class="one" transform="matrix(1.0000,0.0000,0.0000,1.0000,0.000,0.000) translate(326.250,182.400) scale(0.006104,-0.006104)" d="M515,0L696,0L696,1409L530,1409L197,1180L197,1010L515,1237Z"/><path class="one" transform="matrix(1.0000,0.0000,0.0000,1.0000,0.000,0.000) translate(34.506,94.100) scale(0.006836,-0.006836)" d="M515,0L696,0L696,1409L530,1409L197,1180L197,1010L515,1237Z"/><path class="one" transform="matrix(1.0000,0.0000,0.0000,1.0000,0.000,0.000) translate(34.506,140.400) scale(0.006836,-0.006836)" d="M515,0L696,0L696,1409L530,1409L197,1180L197,1010L515,1237Z"/><path class="one" transform="matrix(1.0000,0.0000,0.0000,1.0000,0.000,0.000) translate(34.506,186.700) scale(0.006836,-0.006836)" d="M515,0L696,0L696,1409L530,1409L197,1180L197,1010L515,1237Z"/><path class="one" transform="matrix(1.0000,0.0000,0.0000,1.0000,0.000,0.000) translate(34.506,233.000) scale(0.006836,-0.006836)" d="M515,0L696,0L696,1409L530,1409L197,1180L197,1010L515,1237Z"/><path class="one" transform="matrix(1.0000,0.0000,0.0000,1.0000,0.000,0.000) translate(207.988,288.600) scale(0.004883,-0.004883)" d="M515,0L696,0L696,1409L530,1409L197,1180L197,1010L515,1237Z"/><path class="one" transform="matrix(0.0000,-1.0000,1.0000,0.0000,12.500,162.300) translate(18.688,3.000) scale(0.004883,-0.004883)" d="M515,0L696,0L696,1409L530,1409L197,1180L197,1010L515,1237Z"/></g>
</svg>
</body></html>
